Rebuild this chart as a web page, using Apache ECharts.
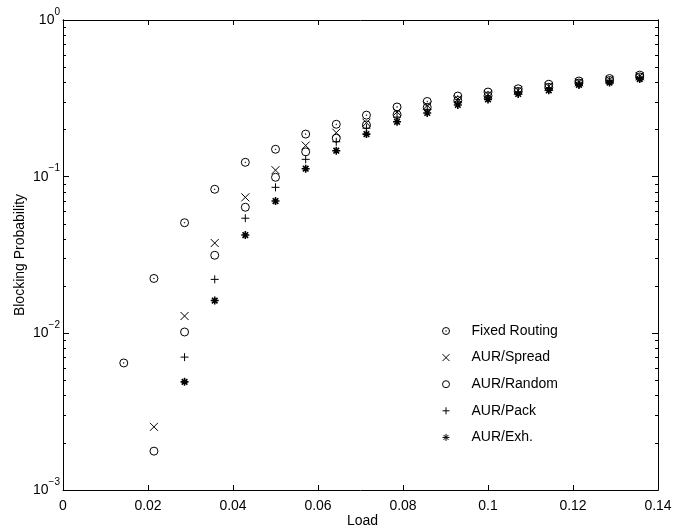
<!DOCTYPE html>
<html><head><meta charset="utf-8">
<script src="https://cdn.jsdelivr.net/npm/echarts@6/dist/echarts.min.js"></script>
<style>html,body{margin:0;padding:0;background:#fff}#c{width:674px;height:529px}</style>
</head><body><div id="c"></div>
<script>
const load = [0.0143, 0.0214, 0.0286, 0.0357, 0.0429, 0.05, 0.0571, 0.0643, 0.0714, 0.0786, 0.0857, 0.0929, 0.1, 0.1071, 0.1143, 0.1214, 0.1286, 0.1357];
const fixedRouting = [0.00647, 0.0224, 0.0508, 0.0831, 0.1235, 0.1496, 0.187, 0.216, 0.247, 0.2785, 0.302, 0.327, 0.347, 0.364, 0.389, 0.408, 0.423, 0.445];
const aurSpread = [null, 0.00253, 0.0129, 0.0377, 0.0738, 0.110, 0.158, 0.191, 0.221, 0.259, 0.285, 0.313, 0.334, 0.355, 0.377, 0.400, 0.415, 0.437];
const aurRandom = [null, 0.00177, 0.0102, 0.0315, 0.0638, 0.0991, 0.144, 0.176, 0.214, 0.249, 0.277, 0.306, 0.328, 0.350, 0.372, 0.396, 0.411, 0.433];
const aurPack = [null, null, 0.00705, 0.0221, 0.0543, 0.0855, 0.129, 0.167, 0.204, 0.240, 0.269, 0.300, 0.3225, 0.3455, 0.366, 0.392, 0.407, 0.428];
const aurExh = [null, null, 0.0049, 0.0162, 0.0424, 0.0699, 0.1124, 0.1465, 0.187, 0.224, 0.255, 0.287, 0.311, 0.337, 0.356, 0.385, 0.399, 0.420];
const seriesNames = ['Fixed Routing', 'AUR/Spread', 'AUR/Random', 'AUR/Pack', 'AUR/Exh.'];
const xTicks = [0, 0.02, 0.04, 0.06, 0.08, 0.1, 0.12, 0.14];
const yMajor = [0.001, 0.01, 0.1, 1];
const yMinor = [0.002,0.003,0.004,0.005,0.006,0.007,0.008,0.009,0.02,0.03,0.04,0.05,0.06,0.07,0.08,0.09,0.2,0.3,0.4,0.5,0.6,0.7,0.8,0.9];

const symbols = [
  'path://M0,5A5,5 0 1 0 10,5A5,5 0 1 0 0,5Z M4.6,5A0.4,0.4 0 1 0 5.4,5A0.4,0.4 0 1 0 4.6,5Z',
  'path://M0,0L10,10M10,0L0,10',
  'path://M0,5A5,5 0 1 0 10,5A5,5 0 1 0 0,5Z',
  'path://M5,0L5,10M0,5L10,5',
  'path://M5,0L5,10M0,5L10,5M1.5,1.5L8.5,8.5M8.5,1.5L1.5,8.5'
];
const values = [fixedRouting, aurSpread, aurRandom, aurPack, aurExh];

const FONT = 'Liberation Sans, Arial, sans-serif';
const lineStyle = {color: '#000', width: 1};

function yAxisDef(pos, ticks, len, labels) {
  const a = {
    type: 'log', logBase: 10, min: 0.001, max: 1, position: pos,
    axisLine: {show: true, lineStyle},
    axisTick: {show: true, inside: true, length: len, customValues: ticks, lineStyle},
    splitLine: {show: false},
    axisLabel: {show: false}
  };
  if (labels) {
    a.axisLabel = {
      show: true, customValues: yMajor, margin: 3, color: '#000', fontFamily: FONT,
      padding: [0, 0, 6, 0],
      formatter: v => '{b|10}{s|' + String(Math.round(Math.log10(v))).replace('-', '\u2212') + '}',
      rich: {
        b: {fontSize: 14, fontFamily: FONT, color: '#000', lineHeight: 20, verticalAlign: 'bottom'},
        s: {fontSize: 10, fontFamily: FONT, color: '#000', verticalAlign: 'top', lineHeight: 12}
      }
    };
    a.name = 'Blocking Probability';
    a.nameLocation = 'middle';
    a.nameGap = 36;
    a.nameMoveOverlap = false;
    a.nameRotate = 90;
    a.nameTextStyle = {fontSize: 14, fontFamily: FONT, color: '#000'};
  }
  return a;
}

const option = {
  animation: false,
  backgroundColor: '#fff',
  grid: {left: 63, right: 16, top: 20, bottom: 39, outerBoundsMode: 'none'},
  xAxis: [
    {type: 'value', min: 0, max: 0.14, interval: 0.02, position: 'bottom',
     axisLine: {show: true, lineStyle}, splitLine: {show: false},
     axisTick: {show: true, inside: true, length: 5, customValues: xTicks, lineStyle},
     axisLabel: {customValues: xTicks, color: '#000', fontSize: 14, fontFamily: FONT, margin: 9},
     name: 'Load', nameLocation: 'middle', nameGap: 24, nameMoveOverlap: false,
     nameTextStyle: {fontSize: 14, fontFamily: FONT, color: '#000', padding: [0, 0, 0, 4]}},
    {type: 'value', min: 0, max: 0.14, interval: 0.02, position: 'top',
     axisLine: {show: true, lineStyle}, splitLine: {show: false},
     axisTick: {show: true, inside: true, length: 5, customValues: xTicks, lineStyle},
     axisLabel: {show: false}}
  ],
  yAxis: [
    yAxisDef('left', yMajor, 6, true),
    yAxisDef('left', yMinor, 3, false),
    yAxisDef('right', yMajor, 6, false),
    yAxisDef('right', yMinor, 3, false)
  ],
  legend: {
    orient: 'vertical', left: 437, top: 319, itemWidth: 7, itemHeight: 7, itemGap: 12.6,
    data: seriesNames,
    itemStyle: {color: 'rgba(0,0,0,0)', borderColor: '#000', borderWidth: 1},
    textStyle: {fontSize: 14, fontFamily: FONT, color: '#000', padding: [0, 0, 0, 17], lineHeight: 14}
  },
  series: seriesNames.map((name, si) => ({
    name, type: 'scatter', xAxisIndex: 0, yAxisIndex: 0,
    symbol: symbols[si], symbolSize: 8,
    itemStyle: {color: 'rgba(0,0,0,0)', borderColor: '#000', borderWidth: si === 4 ? 1.6 : 1, opacity: 1},
    data: load.map((x, i) => [x, values[si][i]]).filter(d => d[1] != null)
  }))
};
const chart = echarts.init(document.getElementById('c'), null, {renderer: 'canvas'});
chart.setOption(option);
</script></body></html>
